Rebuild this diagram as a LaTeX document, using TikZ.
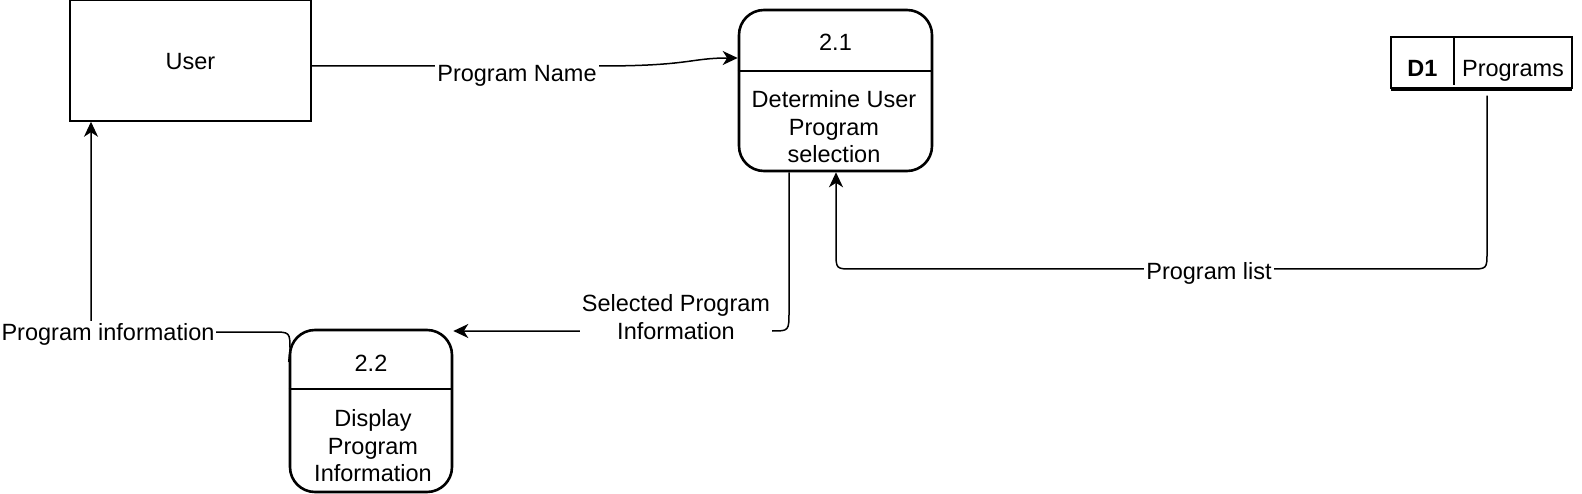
\documentclass[tikz,border=0pt]{standalone}
\usepackage{fontspec}
\setmainfont{Liberation Sans}
\usetikzlibrary{arrows.meta}
\begin{document}
\begin{tikzpicture}[x=1pt,y=-1pt,
  font=\fontsize{23.5}{27.5}\selectfont,
  entity/.style={draw, line width=1.5pt, minimum width=241pt, minimum height=121pt, inner sep=0pt},
  proc/.style={draw, line width=2.6pt, rounded corners=25pt, inner sep=0pt},
  store/.style={draw, line width=1.5pt, minimum width=181pt, minimum height=51pt, inner sep=0pt},
  txt/.style={inner sep=0pt, align=center},
  flow/.style={line width=1.5pt, -{Stealth[length=15pt,width=14pt,inset=4.5pt]}},
  lbl/.style={fill=white, inner sep=2pt, align=center}]
\useasboundingbox (0,0) rectangle (1582,494);

% User entity
\node[entity] (user) at (190.5,60.5) {};
\node[txt] (usert) at (190.5,62) {User};

% Process 2.1
\node[proc, minimum width=193pt, minimum height=161pt] (p21) at (835.5,90.5) {};
\draw[line width=2.6pt] (p21.west |- 0,71) -- (p21.east |- 0,71);
\node[txt] (p21n) at (835.5,42.5) {2.1};
\node[txt] (p21t) at (834,127) {Determine User\\Program\\selection};

% Process 2.2
\node[proc, minimum width=162pt, minimum height=162pt] (p22) at (371,411) {};
\draw[line width=2.6pt] (p22.west |- 0,389) -- (p22.east |- 0,389);
\node[txt] (p22n) at (371,363) {2.2};
\node[txt] (p22t) at (373,446) {Display\\Program\\Information};

% Data store D1
\node[store] (d1) at (1481.5,62.5) {};
\draw[line width=1.5pt] (1454,37) -- (1454,85);
\draw[line width=1.5pt] (1391,90) -- (1572,90);
\node[txt, font=\fontsize{23.5}{27.5}\selectfont\bfseries] (d1id) at (1422.5,68.5) {D1};
\node[txt] (d1name) at (1513,71) {Programs};

% User -> 2.1
\draw[flow] (user.east |- 0,66) -- (600,66)
  .. controls (690,66) and (690,58) .. (p21.west |- 0,58);
\node[lbl] (l1) at (517,76) {Program Name};

% 2.1 -> 2.2
\draw[flow] (p21.south -| 789,0) -- (789,311)
  .. controls (789,331) .. (772,331) -- (p22.east |- 0,331);
\node[lbl] (l2) at (676,317) {Selected Program\\Information};

% D1 -> 2.1
\draw[flow] (d1.south -| 1487,0) ++(0,7) -- (1487,252)
  .. controls (1487,269) .. (1470,269) -- (853,269)
  .. controls (836,269) .. (836,252) -- (p21.south -| 836,0);
\node[lbl] (l3) at (1209,273) {Program list};

% 2.2 -> User
\draw[flow] (p22.west |- 0,362) -- (290,350)
  .. controls (290,332) .. (272,332) -- (91,332) -- (user.south -| 91,0);
\node[lbl] (l4) at (108,334) {Program information};
\end{tikzpicture}
\end{document}
